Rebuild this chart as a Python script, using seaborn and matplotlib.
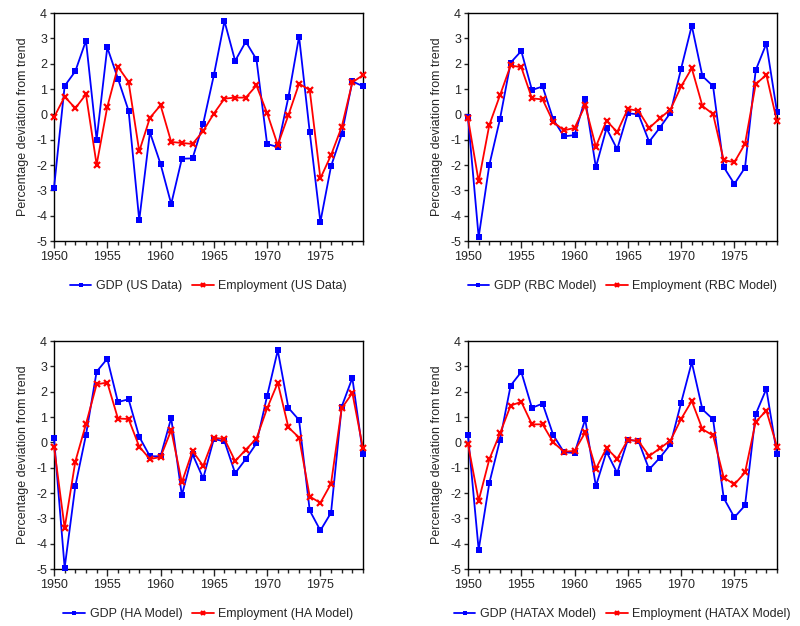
import numpy as np
import pandas as pd
import matplotlib
matplotlib.use("Agg")
import matplotlib.pyplot as plt
from matplotlib.ticker import MultipleLocator
import seaborn as sns

years = list(range(1950, 1980))

gdp_us = [-2.91, 1.12, 1.70, 2.91, -1.00, 2.64, 1.41, 0.14, -4.18, -0.71,
          -1.96, -3.54, -1.75, -1.74, -0.37, 1.54, 3.68, 2.11, 2.87, 2.17,
          -1.17, -1.29, 0.68, 3.07, -0.70, -4.25, -2.05, -0.79, 1.30, 1.11]
emp_us = [-0.12, 0.70, 0.24, 0.79, -1.99, 0.29, 1.88, 1.28, -1.46, -0.14,
          0.36, -1.09, -1.13, -1.17, -0.66, 0.03, 0.62, 0.66, 0.66, 1.14,
          0.05, -1.21, -0.03, 1.21, 0.96, -2.53, -1.61, -0.50, 1.26, 1.55]

gdp_rbc = [-0.12, -4.85, -2.00, -0.19, 2.04, 2.50, 0.96, 1.10, -0.20, -0.87,
           -0.82, 0.61, -2.09, -0.55, -1.38, 0.04, 0.00, -1.08, -0.53, 0.06,
           1.80, 3.50, 1.51, 1.11, -2.08, -2.75, -2.10, 1.74, 2.79, 0.10]
emp_rbc = [-0.16, -2.65, -0.42, 0.75, 1.93, 1.86, 0.63, 0.59, -0.30, -0.63,
           -0.54, 0.35, -1.28, -0.25, -0.70, 0.21, 0.14, -0.54, -0.16, 0.19,
           1.10, 1.82, 0.33, 0.01, -1.81, -1.89, -1.16, 1.19, 1.56, -0.28]

gdp_ha = [0.17, -4.95, -1.73, 0.29, 2.79, 3.30, 1.59, 1.70, 0.22, -0.55,
          -0.55, 0.96, -2.09, -0.47, -1.42, 0.13, 0.04, -1.22, -0.66, -0.04,
          1.83, 3.63, 1.36, 0.88, -2.69, -3.48, -2.78, 1.41, 2.54, -0.47]
emp_ha = [-0.17, -3.38, -0.76, 0.72, 2.29, 2.36, 0.94, 0.92, -0.17, -0.66,
          -0.58, 0.48, -1.58, -0.34, -0.93, 0.18, 0.13, -0.74, -0.29, 0.15,
          1.34, 2.35, 0.59, 0.19, -2.14, -2.39, -1.63, 1.34, 1.95, -0.24]

gdp_hatax = [0.29, -4.24, -1.61, 0.09, 2.24, 2.78, 1.36, 1.53, 0.29, -0.39,
             -0.42, 0.91, -1.73, -0.37, -1.21, 0.10, 0.05, -1.07, -0.61, -0.08,
             1.56, 3.16, 1.30, 0.91, -2.20, -2.96, -2.49, 1.11, 2.11, -0.47]
emp_hatax = [-0.07, -2.30, -0.67, 0.35, 1.45, 1.60, 0.71, 0.71, 0.00, -0.37,
             -0.34, 0.39, -1.04, -0.23, -0.65, 0.10, 0.05, -0.54, -0.24, 0.07,
             0.92, 1.63, 0.52, 0.27, -1.39, -1.66, -1.19, 0.81, 1.25, -0.17]

panels = [
    ("US Data", gdp_us, emp_us),
    ("RBC Model", gdp_rbc, emp_rbc),
    ("HA Model", gdp_ha, emp_ha),
    ("HATAX Model", gdp_hatax, emp_hatax),
]

sns.set_style("ticks")
plt.rcParams["font.family"] = ["Liberation Sans", "DejaVu Sans"]
plt.rcParams["font.size"] = 9
plt.rcParams["axes.unicode_minus"] = False

fig = plt.figure(figsize=(8.0, 6.26), dpi=100)
W, H = 800, 626
boxes = [(54, 13), (468, 13), (54, 341), (468, 341)]
aw, ah = 309, 228

for (label, gdp, emp), (x0, y0) in zip(panels, boxes):
    ax = fig.add_axes([x0 / W, 1 - (y0 + ah) / H, aw / W, ah / H])
    df = pd.DataFrame({"year": years, "gdp": gdp, "emp": emp})
    sns.lineplot(data=df, x="year", y="gdp", ax=ax, color="#0000ff", lw=1.3,
                 marker="s", markersize=4.0, markeredgewidth=0,
                 label=f"GDP ({label})", clip_on=False, zorder=3)
    sns.lineplot(data=df, x="year", y="emp", ax=ax, color="#ff0000", lw=1.3,
                 marker="x", markersize=4.2, markeredgewidth=1.6,
                 markeredgecolor="#ff0000", label=f"Employment ({label})",
                 clip_on=False, zorder=4)
    ax.set_xlim(1950, 1979)
    ax.set_ylim(-5, 4)
    ax.xaxis.set_major_locator(MultipleLocator(5))
    ax.xaxis.set_minor_locator(MultipleLocator(1))
    ax.yaxis.set_major_locator(MultipleLocator(1))
    ax.tick_params(axis="x", which="major", length=5, width=1, pad=2, labelsize=9)
    ax.tick_params(axis="x", which="minor", length=3, width=1)
    ax.tick_params(axis="y", which="major", length=3, width=1, pad=2, labelsize=9)
    ax.set_xlabel("")
    ax.set_ylabel("Percentage deviation from trend", fontsize=9, labelpad=5)
    for sp in ax.spines.values():
        sp.set_linewidth(1.0)
        sp.set_color("black")
    ax.legend(loc="center", bbox_to_anchor=(0.5, -0.197), ncol=2,
              frameon=False, handlelength=1.7, handletextpad=0.4,
              columnspacing=0.8, fontsize=9, markerscale=0.8)

fig.savefig("out.png", dpi=100)
